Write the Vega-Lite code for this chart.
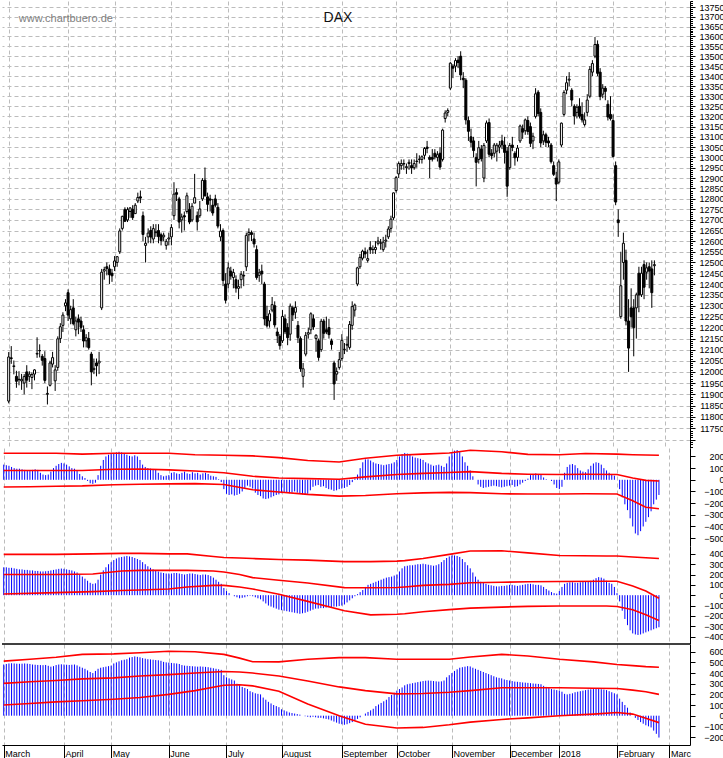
{
"$schema": "https://vega.github.io/schema/vega-lite/v6.json",
"padding": 0,
"background": "white",
"spacing": 0,
"bounds": "flush",
"config": {
  "view": {"stroke": null},
  "font": "Liberation Sans",
  "axis": {"labelFont": "Liberation Sans", "labelFontSize": 9, "labelColor": "#000", "domainColor": "#000", "tickColor": "#000", "gridColor": "#bcbcbc", "gridDash": [4, 3], "gridWidth": 1, "labelOverlap": false, "labelBound": false}
},
"datasets": {
"d": [
{"i":0,"o":11870,"h":12089,"l":11860,"c":12067,"a":130,"b":270,"p":480},
{"i":1,"o":12063,"h":12116,"l":12036,"c":12060,"a":125,"b":270,"p":485},
{"i":2,"o":12024,"h":12051,"l":11989,"c":12027,"a":120,"b":265,"p":490},
{"i":3,"o":11980,"h":12005,"l":11929,"c":11958,"a":110,"b":265,"p":492},
{"i":4,"o":11965,"h":12003,"l":11940,"c":11967,"a":100,"b":260,"p":490},
{"i":5,"o":11960,"h":11991,"l":11920,"c":11967,"a":95,"b":255,"p":488},
{"i":6,"o":11950,"h":11990,"l":11900,"c":11979,"a":95,"b":250,"p":487},
{"i":7,"o":12000,"h":12030,"l":11930,"c":11963,"a":90,"b":250,"p":488},
{"i":8,"o":11980,"h":12003,"l":11955,"c":11990,"a":85,"b":245,"p":490},
{"i":9,"o":11975,"h":11997,"l":11923,"c":11988,"a":80,"b":245,"p":488},
{"i":10,"o":11990,"h":12012,"l":11962,"c":12009,"a":80,"b":240,"p":485},
{"i":11,"o":12080,"h":12156,"l":12063,"c":12083,"a":85,"b":240,"p":480},
{"i":12,"o":12096,"h":12124,"l":12065,"c":12095,"a":90,"b":235,"p":478},
{"i":13,"o":12070,"h":12080,"l":12028,"c":12052,"a":85,"b":235,"p":476},
{"i":14,"o":12060,"h":12093,"l":11950,"c":11962,"a":60,"b":230,"p":475},
{"i":15,"o":11900,"h":11935,"l":11855,"c":11904,"a":45,"b":230,"p":474},
{"i":16,"o":11940,"h":12050,"l":11935,"c":12040,"a":40,"b":232,"p":476},
{"i":17,"o":12035,"h":12090,"l":12020,"c":12064,"a":45,"b":235,"p":468},
{"i":18,"o":11960,"h":12030,"l":11915,"c":12009,"a":70,"b":240,"p":460},
{"i":19,"o":12020,"h":12160,"l":12005,"c":12149,"a":100,"b":245,"p":465},
{"i":20,"o":12150,"h":12220,"l":12130,"c":12204,"a":120,"b":250,"p":475},
{"i":21,"o":12210,"h":12270,"l":12180,"c":12257,"a":135,"b":255,"p":480},
{"i":22,"o":12300,"h":12330,"l":12275,"c":12313,"a":145,"b":258,"p":482},
{"i":23,"o":12360,"h":12375,"l":12230,"c":12257,"a":140,"b":255,"p":480},
{"i":24,"o":12240,"h":12300,"l":12215,"c":12282,"a":130,"b":250,"p":478},
{"i":25,"o":12290,"h":12330,"l":12210,"c":12218,"a":115,"b":245,"p":476},
{"i":26,"o":12190,"h":12250,"l":12160,"c":12230,"a":100,"b":240,"p":478},
{"i":27,"o":12240,"h":12260,"l":12170,"c":12225,"a":95,"b":230,"p":480},
{"i":28,"o":12230,"h":12250,"l":12180,"c":12201,"a":80,"b":220,"p":472},
{"i":29,"o":12190,"h":12210,"l":12110,"c":12139,"a":50,"b":200,"p":460},
{"i":30,"o":12140,"h":12170,"l":12110,"c":12154,"a":30,"b":180,"p":450},
{"i":31,"o":12150,"h":12180,"l":12100,"c":12109,"a":15,"b":160,"p":440},
{"i":32,"o":12080,"h":12090,"l":11940,"c":12000,"a":-10,"b":140,"p":425},
{"i":33,"o":12010,"h":12060,"l":11990,"c":12016,"a":-30,"b":120,"p":410},
{"i":34,"o":12040,"h":12060,"l":11980,"c":12027,"a":-35,"b":110,"p":400},
{"i":35,"o":12040,"h":12090,"l":11990,"c":12048,"a":-25,"b":115,"p":420},
{"i":36,"o":12290,"h":12470,"l":12280,"c":12455,"a":40,"b":150,"p":440},
{"i":37,"o":12460,"h":12480,"l":12420,"c":12467,"a":120,"b":200,"p":450},
{"i":38,"o":12480,"h":12500,"l":12440,"c":12472,"a":170,"b":240,"p":455},
{"i":39,"o":12470,"h":12490,"l":12400,"c":12443,"a":200,"b":270,"p":460},
{"i":40,"o":12450,"h":12470,"l":12410,"c":12438,"a":215,"b":300,"p":465},
{"i":41,"o":12480,"h":12530,"l":12460,"c":12507,"a":225,"b":320,"p":470},
{"i":42,"o":12500,"h":12530,"l":12480,"c":12527,"a":230,"b":340,"p":490},
{"i":43,"o":12550,"h":12660,"l":12540,"c":12648,"a":235,"b":355,"p":500},
{"i":44,"o":12660,"h":12720,"l":12650,"c":12717,"a":240,"b":365,"p":510},
{"i":45,"o":12750,"h":12760,"l":12690,"c":12694,"a":235,"b":370,"p":520},
{"i":46,"o":12700,"h":12760,"l":12690,"c":12749,"a":230,"b":375,"p":525},
{"i":47,"o":12740,"h":12760,"l":12710,"c":12757,"a":215,"b":380,"p":530},
{"i":48,"o":12750,"h":12770,"l":12700,"c":12711,"a":205,"b":375,"p":545},
{"i":49,"o":12730,"h":12780,"l":12730,"c":12770,"a":200,"b":370,"p":550},
{"i":50,"o":12790,"h":12830,"l":12780,"c":12807,"a":210,"b":360,"p":556},
{"i":51,"o":12810,"h":12840,"l":12780,"c":12804,"a":200,"b":350,"p":552},
{"i":52,"o":12720,"h":12740,"l":12600,"c":12631,"a":170,"b":340,"p":548},
{"i":53,"o":12580,"h":12620,"l":12500,"c":12590,"a":130,"b":320,"p":540},
{"i":54,"o":12620,"h":12660,"l":12590,"c":12638,"a":110,"b":300,"p":535},
{"i":55,"o":12650,"h":12670,"l":12590,"c":12619,"a":100,"b":280,"p":530},
{"i":56,"o":12610,"h":12680,"l":12590,"c":12659,"a":95,"b":265,"p":528},
{"i":57,"o":12640,"h":12680,"l":12620,"c":12643,"a":90,"b":250,"p":525},
{"i":58,"o":12650,"h":12680,"l":12590,"c":12621,"a":85,"b":240,"p":522},
{"i":59,"o":12630,"h":12640,"l":12580,"c":12602,"a":60,"b":230,"p":520},
{"i":60,"o":12620,"h":12640,"l":12600,"c":12628,"a":40,"b":220,"p":515},
{"i":61,"o":12580,"h":12610,"l":12560,"c":12599,"a":30,"b":215,"p":505},
{"i":62,"o":12610,"h":12640,"l":12580,"c":12615,"a":35,"b":210,"p":500},
{"i":63,"o":12620,"h":12680,"l":12580,"c":12664,"a":40,"b":210,"p":498},
{"i":64,"o":12720,"h":12880,"l":12700,"c":12823,"a":60,"b":210,"p":495},
{"i":65,"o":12830,"h":12850,"l":12790,"c":12822,"a":65,"b":215,"p":492},
{"i":66,"o":12800,"h":12810,"l":12660,"c":12690,"a":55,"b":215,"p":490},
{"i":67,"o":12700,"h":12730,"l":12640,"c":12714,"a":50,"b":210,"p":485},
{"i":68,"o":12720,"h":12740,"l":12650,"c":12714,"a":60,"b":205,"p":475},
{"i":69,"o":12740,"h":12830,"l":12730,"c":12815,"a":70,"b":200,"p":470},
{"i":70,"o":12750,"h":12780,"l":12680,"c":12690,"a":55,"b":205,"p":468},
{"i":71,"o":12700,"h":12780,"l":12690,"c":12765,"a":50,"b":210,"p":466},
{"i":72,"o":12780,"h":12920,"l":12780,"c":12806,"a":65,"b":210,"p":464},
{"i":73,"o":12720,"h":12740,"l":12650,"c":12691,"a":55,"b":205,"p":462},
{"i":74,"o":12720,"h":12790,"l":12710,"c":12752,"a":60,"b":200,"p":460},
{"i":75,"o":12800,"h":12900,"l":12790,"c":12889,"a":45,"b":195,"p":462},
{"i":76,"o":12890,"h":12951,"l":12870,"c":12814,"a":55,"b":200,"p":460},
{"i":77,"o":12810,"h":12830,"l":12740,"c":12774,"a":60,"b":200,"p":458},
{"i":78,"o":12800,"h":12820,"l":12740,"c":12794,"a":50,"b":195,"p":455},
{"i":79,"o":12770,"h":12800,"l":12720,"c":12733,"a":35,"b":185,"p":450},
{"i":80,"o":12800,"h":12820,"l":12760,"c":12770,"a":30,"b":170,"p":445},
{"i":81,"o":12760,"h":12780,"l":12660,"c":12671,"a":25,"b":150,"p":440},
{"i":82,"o":12620,"h":12680,"l":12600,"c":12647,"a":5,"b":130,"p":435},
{"i":83,"o":12650,"h":12660,"l":12390,"c":12416,"a":-20,"b":110,"p":430},
{"i":84,"o":12400,"h":12450,"l":12310,"c":12325,"a":-80,"b":70,"p":380},
{"i":85,"o":12400,"h":12500,"l":12380,"c":12475,"a":-120,"b":40,"p":360},
{"i":86,"o":12460,"h":12480,"l":12420,"c":12437,"a":-130,"b":20,"p":350},
{"i":87,"o":12430,"h":12470,"l":12380,"c":12453,"a":-125,"b":0,"p":340},
{"i":88,"o":12420,"h":12440,"l":12360,"c":12381,"a":-135,"b":-10,"p":330},
{"i":89,"o":12380,"h":12420,"l":12330,"c":12388,"a":-130,"b":-20,"p":300},
{"i":90,"o":12420,"h":12460,"l":12380,"c":12445,"a":-120,"b":-30,"p":290},
{"i":91,"o":12440,"h":12460,"l":12390,"c":12437,"a":-100,"b":-25,"p":270},
{"i":92,"o":12480,"h":12640,"l":12460,"c":12627,"a":-70,"b":-20,"p":260},
{"i":93,"o":12630,"h":12660,"l":12600,"c":12641,"a":-50,"b":-10,"p":250},
{"i":94,"o":12640,"h":12650,"l":12600,"c":12631,"a":-60,"b":-5,"p":230},
{"i":95,"o":12610,"h":12640,"l":12570,"c":12587,"a":-75,"b":-10,"p":220},
{"i":96,"o":12560,"h":12580,"l":12420,"c":12430,"a":-110,"b":-20,"p":210},
{"i":97,"o":12440,"h":12470,"l":12410,"c":12452,"a":-130,"b":-30,"p":205},
{"i":98,"o":12460,"h":12490,"l":12400,"c":12447,"a":-140,"b":-40,"p":200},
{"i":99,"o":12400,"h":12410,"l":12210,"c":12240,"a":-160,"b":-60,"p":170},
{"i":100,"o":12250,"h":12300,"l":12200,"c":12208,"a":-165,"b":-80,"p":150},
{"i":101,"o":12230,"h":12280,"l":12200,"c":12263,"a":-160,"b":-100,"p":130},
{"i":102,"o":12280,"h":12340,"l":12270,"c":12305,"a":-150,"b":-110,"p":115},
{"i":103,"o":12300,"h":12320,"l":12200,"c":12212,"a":-140,"b":-120,"p":100},
{"i":104,"o":12180,"h":12200,"l":12130,"c":12163,"a":-130,"b":-130,"p":90},
{"i":105,"o":12160,"h":12170,"l":12100,"c":12118,"a":-125,"b":-140,"p":80},
{"i":106,"o":12140,"h":12280,"l":12130,"c":12251,"a":-115,"b":-145,"p":60},
{"i":107,"o":12240,"h":12260,"l":12170,"c":12181,"a":-110,"b":-150,"p":50},
{"i":108,"o":12200,"h":12220,"l":12120,"c":12154,"a":-105,"b":-155,"p":40},
{"i":109,"o":12170,"h":12310,"l":12140,"c":12298,"a":-115,"b":-160,"p":30},
{"i":110,"o":12290,"h":12300,"l":12230,"c":12258,"a":-110,"b":-165,"p":25},
{"i":111,"o":12270,"h":12320,"l":12240,"c":12292,"a":-100,"b":-170,"p":20},
{"i":112,"o":12210,"h":12230,"l":12130,"c":12154,"a":-110,"b":-175,"p":15},
{"i":113,"o":12150,"h":12160,"l":12000,"c":12014,"a":-120,"b":-180,"p":10},
{"i":114,"o":11980,"h":12040,"l":11930,"c":12014,"a":-125,"b":-175,"p":0},
{"i":115,"o":12080,"h":12180,"l":12070,"c":12165,"a":-130,"b":-170,"p":-5},
{"i":116,"o":12170,"h":12200,"l":12150,"c":12177,"a":-120,"b":-160,"p":-10},
{"i":117,"o":12190,"h":12270,"l":12170,"c":12263,"a":-90,"b":-150,"p":-15},
{"i":118,"o":12240,"h":12260,"l":12190,"c":12203,"a":-60,"b":-140,"p":-10},
{"i":119,"o":12150,"h":12170,"l":12090,"c":12165,"a":-50,"b":-130,"p":-15},
{"i":120,"o":12140,"h":12150,"l":12050,"c":12065,"a":-45,"b":-130,"p":-20},
{"i":121,"o":12100,"h":12240,"l":12090,"c":12229,"a":-60,"b":-125,"p":-20},
{"i":122,"o":12230,"h":12240,"l":12150,"c":12174,"a":-55,"b":-125,"p":-25},
{"i":123,"o":12190,"h":12250,"l":12170,"c":12180,"a":-70,"b":-120,"p":-30},
{"i":124,"o":12200,"h":12240,"l":12150,"c":12168,"a":-80,"b":-115,"p":-35},
{"i":125,"o":12140,"h":12150,"l":12100,"c":12123,"a":-85,"b":-115,"p":-45},
{"i":126,"o":12040,"h":12050,"l":11875,"c":11946,"a":-95,"b":-110,"p":-55},
{"i":127,"o":11990,"h":12020,"l":11960,"c":12002,"a":-90,"b":-110,"p":-65},
{"i":128,"o":12020,"h":12090,"l":12010,"c":12055,"a":-80,"b":-105,"p":-75},
{"i":129,"o":12060,"h":12170,"l":12050,"c":12142,"a":-75,"b":-100,"p":-80},
{"i":130,"o":12100,"h":12130,"l":12080,"c":12102,"a":-70,"b":-90,"p":-85},
{"i":131,"o":12120,"h":12160,"l":12090,"c":12124,"a":-60,"b":-70,"p":-80},
{"i":132,"o":12110,"h":12230,"l":12100,"c":12214,"a":-45,"b":-50,"p":-70},
{"i":133,"o":12210,"h":12320,"l":12190,"c":12296,"a":-20,"b":-30,"p":-60},
{"i":134,"o":12280,"h":12310,"l":12250,"c":12303,"a":10,"b":-10,"p":-45},
{"i":135,"o":12400,"h":12480,"l":12390,"c":12475,"a":45,"b":10,"p":-30},
{"i":136,"o":12480,"h":12540,"l":12470,"c":12524,"a":100,"b":30,"p":-15},
{"i":137,"o":12520,"h":12560,"l":12510,"c":12553,"a":150,"b":50,"p":0},
{"i":138,"o":12550,"h":12570,"l":12520,"c":12540,"a":175,"b":80,"p":20},
{"i":139,"o":12510,"h":12560,"l":12500,"c":12518,"a":175,"b":100,"p":35},
{"i":140,"o":12570,"h":12600,"l":12540,"c":12559,"a":165,"b":110,"p":50},
{"i":141,"o":12560,"h":12580,"l":12540,"c":12561,"a":150,"b":120,"p":65},
{"i":142,"o":12560,"h":12600,"l":12540,"c":12570,"a":140,"b":130,"p":90},
{"i":143,"o":12590,"h":12620,"l":12580,"c":12600,"a":135,"b":140,"p":105},
{"i":144,"o":12590,"h":12610,"l":12560,"c":12592,"a":130,"b":150,"p":120},
{"i":145,"o":12560,"h":12620,"l":12550,"c":12595,"a":125,"b":160,"p":135},
{"i":146,"o":12600,"h":12630,"l":12570,"c":12605,"a":130,"b":170,"p":150},
{"i":147,"o":12620,"h":12670,"l":12610,"c":12657,"a":135,"b":175,"p":175},
{"i":148,"o":12660,"h":12720,"l":12640,"c":12704,"a":140,"b":180,"p":195},
{"i":149,"o":12710,"h":12830,"l":12700,"c":12829,"a":150,"b":190,"p":215},
{"i":150,"o":12840,"h":12910,"l":12830,"c":12902,"a":170,"b":200,"p":235},
{"i":151,"o":12920,"h":12980,"l":12900,"c":12970,"a":200,"b":230,"p":250},
{"i":152,"o":12960,"h":12990,"l":12940,"c":12970,"a":220,"b":260,"p":265},
{"i":153,"o":12970,"h":12990,"l":12940,"c":12968,"a":230,"b":280,"p":285},
{"i":154,"o":12950,"h":12970,"l":12920,"c":12955,"a":225,"b":285,"p":295},
{"i":155,"o":12970,"h":12990,"l":12940,"c":12976,"a":215,"b":290,"p":300},
{"i":156,"o":12960,"h":12990,"l":12920,"c":12949,"a":200,"b":290,"p":305},
{"i":157,"o":12950,"h":12990,"l":12940,"c":12970,"a":190,"b":295,"p":310},
{"i":158,"o":12980,"h":13020,"l":12950,"c":12982,"a":185,"b":300,"p":315},
{"i":159,"o":12990,"h":13010,"l":12970,"c":12991,"a":180,"b":300,"p":320},
{"i":160,"o":12990,"h":13010,"l":12970,"c":13003,"a":170,"b":305,"p":325},
{"i":161,"o":13010,"h":13050,"l":12990,"c":13043,"a":150,"b":300,"p":328},
{"i":162,"o":13050,"h":13080,"l":13020,"c":13043,"a":140,"b":295,"p":330},
{"i":163,"o":13000,"h":13010,"l":12900,"c":12990,"a":130,"b":290,"p":328},
{"i":164,"o":13000,"h":13040,"l":12980,"c":12991,"a":120,"b":285,"p":325},
{"i":165,"o":13020,"h":13040,"l":12990,"c":13003,"a":125,"b":290,"p":322},
{"i":166,"o":13000,"h":13030,"l":12980,"c":13013,"a":130,"b":300,"p":320},
{"i":167,"o":13020,"h":13050,"l":12940,"c":12953,"a":120,"b":320,"p":322},
{"i":168,"o":12990,"h":13140,"l":12980,"c":13133,"a":110,"b":340,"p":330},
{"i":169,"o":13190,"h":13230,"l":13170,"c":13217,"a":140,"b":360,"p":360},
{"i":170,"o":13220,"h":13240,"l":13200,"c":13229,"a":200,"b":375,"p":380},
{"i":171,"o":13340,"h":13470,"l":13330,"c":13465,"a":230,"b":385,"p":400},
{"i":172,"o":13450,"h":13460,"l":13390,"c":13440,"a":250,"b":385,"p":420},
{"i":173,"o":13450,"h":13490,"l":13420,"c":13478,"a":255,"b":380,"p":435},
{"i":174,"o":13480,"h":13500,"l":13440,"c":13468,"a":245,"b":370,"p":450},
{"i":175,"o":13500,"h":13525,"l":13380,"c":13406,"a":200,"b":350,"p":455},
{"i":176,"o":13390,"h":13420,"l":13340,"c":13382,"a":150,"b":320,"p":460},
{"i":177,"o":13380,"h":13390,"l":13160,"c":13183,"a":120,"b":290,"p":465},
{"i":178,"o":13180,"h":13200,"l":13080,"c":13127,"a":80,"b":260,"p":462},
{"i":179,"o":13100,"h":13140,"l":13050,"c":13074,"a":30,"b":220,"p":450},
{"i":180,"o":13080,"h":13100,"l":13000,"c":13033,"a":0,"b":180,"p":440},
{"i":181,"o":13000,"h":13020,"l":12860,"c":12976,"a":-40,"b":150,"p":430},
{"i":182,"o":12990,"h":13080,"l":12970,"c":13047,"a":-60,"b":130,"p":420},
{"i":183,"o":13040,"h":13060,"l":12980,"c":12994,"a":-70,"b":120,"p":410},
{"i":184,"o":12900,"h":13070,"l":12880,"c":13058,"a":-65,"b":110,"p":400},
{"i":185,"o":13080,"h":13180,"l":13070,"c":13168,"a":-60,"b":100,"p":390},
{"i":186,"o":13170,"h":13190,"l":13000,"c":13015,"a":-55,"b":95,"p":380},
{"i":187,"o":13020,"h":13040,"l":12990,"c":13008,"a":-50,"b":90,"p":370},
{"i":188,"o":13020,"h":13070,"l":13000,"c":13060,"a":-55,"b":85,"p":360},
{"i":189,"o":13030,"h":13070,"l":12980,"c":13059,"a":-60,"b":85,"p":355},
{"i":190,"o":13050,"h":13080,"l":13020,"c":13060,"a":-65,"b":90,"p":350},
{"i":191,"o":13080,"h":13110,"l":13040,"c":13061,"a":-60,"b":90,"p":340},
{"i":192,"o":13060,"h":13100,"l":12970,"c":13024,"a":-55,"b":95,"p":335},
{"i":193,"o":13030,"h":13050,"l":12810,"c":12861,"a":-50,"b":100,"p":330},
{"i":194,"o":12950,"h":13070,"l":12940,"c":13058,"a":-45,"b":100,"p":325},
{"i":195,"o":13060,"h":13100,"l":13030,"c":13048,"a":-60,"b":95,"p":320},
{"i":196,"o":13020,"h":13030,"l":12960,"c":12998,"a":-55,"b":90,"p":318},
{"i":197,"o":13000,"h":13060,"l":12980,"c":13045,"a":-40,"b":95,"p":315},
{"i":198,"o":13080,"h":13160,"l":13070,"c":13153,"a":-25,"b":100,"p":312},
{"i":199,"o":13140,"h":13160,"l":13090,"c":13123,"a":-10,"b":105,"p":310},
{"i":200,"o":13130,"h":13190,"l":13110,"c":13183,"a":10,"b":110,"p":308},
{"i":201,"o":13180,"h":13200,"l":13110,"c":13126,"a":40,"b":110,"p":305},
{"i":202,"o":13150,"h":13170,"l":13050,"c":13068,"a":50,"b":105,"p":302},
{"i":203,"o":13080,"h":13120,"l":13040,"c":13103,"a":55,"b":100,"p":300},
{"i":204,"o":13200,"h":13340,"l":13190,"c":13312,"a":50,"b":100,"p":298},
{"i":205,"o":13320,"h":13330,"l":13200,"c":13215,"a":45,"b":95,"p":295},
{"i":206,"o":13220,"h":13240,"l":13050,"c":13070,"a":20,"b":80,"p":280},
{"i":207,"o":13080,"h":13130,"l":13060,"c":13110,"a":5,"b":60,"p":270},
{"i":208,"o":13110,"h":13120,"l":13050,"c":13073,"a":0,"b":45,"p":260},
{"i":209,"o":13080,"h":13100,"l":13050,"c":13070,"a":-10,"b":30,"p":250},
{"i":210,"o":13060,"h":13070,"l":12970,"c":12979,"a":-40,"b":20,"p":245},
{"i":211,"o":12960,"h":12980,"l":12910,"c":12918,"a":-70,"b":15,"p":240},
{"i":212,"o":12900,"h":12930,"l":12790,"c":12871,"a":-80,"b":40,"p":235},
{"i":213,"o":12880,"h":12990,"l":12870,"c":12978,"a":-60,"b":80,"p":225},
{"i":214,"o":13060,"h":13170,"l":13050,"c":13167,"a":60,"b":110,"p":205},
{"i":215,"o":13210,"h":13330,"l":13200,"c":13319,"a":110,"b":120,"p":200},
{"i":216,"o":13330,"h":13400,"l":13310,"c":13367,"a":130,"b":125,"p":205},
{"i":217,"o":13380,"h":13420,"l":13350,"c":13385,"a":135,"b":125,"p":210},
{"i":218,"o":13330,"h":13340,"l":13250,"c":13281,"a":125,"b":120,"p":220},
{"i":219,"o":13250,"h":13260,"l":13160,"c":13202,"a":100,"b":120,"p":225},
{"i":220,"o":13220,"h":13260,"l":13190,"c":13245,"a":80,"b":125,"p":230},
{"i":221,"o":13250,"h":13290,"l":13190,"c":13201,"a":70,"b":130,"p":235},
{"i":222,"o":13210,"h":13270,"l":13170,"c":13183,"a":65,"b":130,"p":240},
{"i":223,"o":13160,"h":13220,"l":13150,"c":13183,"a":90,"b":135,"p":245},
{"i":224,"o":13220,"h":13310,"l":13200,"c":13281,"a":120,"b":140,"p":248},
{"i":225,"o":13300,"h":13450,"l":13290,"c":13434,"a":140,"b":150,"p":250},
{"i":226,"o":13420,"h":13480,"l":13400,"c":13463,"a":150,"b":165,"p":252},
{"i":227,"o":13500,"h":13597,"l":13490,"c":13559,"a":145,"b":175,"p":250},
{"i":228,"o":13560,"h":13580,"l":13400,"c":13414,"a":130,"b":170,"p":248},
{"i":229,"o":13420,"h":13440,"l":13280,"c":13298,"a":100,"b":160,"p":245},
{"i":230,"o":13310,"h":13360,"l":13290,"c":13340,"a":80,"b":140,"p":240},
{"i":231,"o":13340,"h":13350,"l":13280,"c":13324,"a":60,"b":120,"p":230},
{"i":232,"o":13260,"h":13280,"l":13180,"c":13197,"a":50,"b":110,"p":220},
{"i":233,"o":13210,"h":13300,"l":13180,"c":13189,"a":35,"b":80,"p":210},
{"i":234,"o":13180,"h":13210,"l":13000,"c":13004,"a":0,"b":20,"p":200},
{"i":235,"o":12960,"h":12980,"l":12770,"c":12785,"a":-80,"b":-60,"p":160},
{"i":236,"o":12700,"h":12750,"l":12620,"c":12687,"a":-150,"b":-150,"p":130},
{"i":237,"o":12250,"h":12550,"l":12240,"c":12392,"a":-210,"b":-230,"p":100},
{"i":238,"o":12500,"h":12640,"l":12420,"c":12590,"a":-260,"b":-290,"p":75},
{"i":239,"o":12510,"h":12560,"l":12210,"c":12230,"a":-330,"b":-340,"p":30},
{"i":240,"o":12230,"h":12330,"l":12000,"c":12107,"a":-400,"b":-370,"p":0},
{"i":241,"o":12290,"h":12380,"l":12200,"c":12250,"a":-460,"b":-380,"p":-20},
{"i":242,"o":12290,"h":12330,"l":12070,"c":12200,"a":-475,"b":-385,"p":-40},
{"i":243,"o":12290,"h":12360,"l":12150,"c":12350,"a":-440,"b":-380,"p":-60},
{"i":244,"o":12450,"h":12480,"l":12270,"c":12350,"a":-400,"b":-370,"p":-75},
{"i":245,"o":12350,"h":12480,"l":12340,"c":12450,"a":-360,"b":-360,"p":-90},
{"i":246,"o":12490,"h":12510,"l":12330,"c":12385,"a":-320,"b":-350,"p":-100},
{"i":247,"o":12455,"h":12500,"l":12420,"c":12475,"a":-270,"b":-340,"p":-110},
{"i":248,"o":12480,"h":12500,"l":12380,"c":12460,"a":-210,"b":-330,"p":-140},
{"i":249,"o":12470,"h":12510,"l":12290,"c":12360,"a":-170,"b":-320,"p":-170},
{"i":250,"o":12485,"h":12510,"l":12440,"c":12490,"a":-130,"b":-310,"p":-205}
],
"b1": [
{"i":0,"u":227,"m":80,"lo":-62},{"i":10,"u":227,"m":80,"lo":-60},{"i":20,"u":227,"m":80,"lo":-55},{"i":30,"u":220,"m":80,"lo":-52},{"i":42,"u":227,"m":90,"lo":-42},{"i":52,"u":227,"m":92,"lo":-38},{"i":63,"u":227,"m":85,"lo":-35},{"i":73,"u":215,"m":75,"lo":-33},{"i":84,"u":210,"m":60,"lo":-40},{"i":95,"u":205,"m":30,"lo":-85},{"i":105,"u":190,"m":15,"lo":-105},{"i":116,"u":165,"m":10,"lo":-125},{"i":128,"u":152,"m":5,"lo":-140},{"i":138,"u":185,"m":25,"lo":-135},{"i":150,"u":210,"m":45,"lo":-120},{"i":160,"u":220,"m":55,"lo":-112},{"i":170,"u":230,"m":62,"lo":-108},{"i":178,"u":253,"m":70,"lo":-110},{"i":190,"u":240,"m":55,"lo":-120},{"i":200,"u":218,"m":48,"lo":-122},{"i":212,"u":215,"m":45,"lo":-122},{"i":222,"u":225,"m":47,"lo":-120},{"i":234,"u":220,"m":45,"lo":-122},{"i":240,"u":215,"m":15,"lo":-180},{"i":245,"u":212,"m":-5,"lo":-235},{"i":250,"u":210,"m":-10,"lo":-248}
],
"b2": [
{"i":0,"u":395,"m":200,"lo":12},{"i":20,"u":395,"m":200,"lo":25},{"i":34,"u":400,"m":205,"lo":35},{"i":45,"u":405,"m":235,"lo":45},{"i":52,"u":405,"m":240,"lo":50},{"i":63,"u":400,"m":240,"lo":60},{"i":70,"u":400,"m":240,"lo":80},{"i":80,"u":375,"m":235,"lo":95},{"i":84,"u":365,"m":225,"lo":95},{"i":90,"u":360,"m":200,"lo":80},{"i":95,"u":355,"m":170,"lo":60},{"i":105,"u":345,"m":145,"lo":10},{"i":116,"u":340,"m":118,"lo":-60},{"i":130,"u":325,"m":73,"lo":-150},{"i":140,"u":325,"m":72,"lo":-190},{"i":150,"u":330,"m":75,"lo":-185},{"i":153,"u":335,"m":80,"lo":-180},{"i":160,"u":355,"m":95,"lo":-160},{"i":170,"u":395,"m":105,"lo":-140},{"i":178,"u":428,"m":120,"lo":-125},{"i":190,"u":430,"m":125,"lo":-115},{"i":200,"u":410,"m":130,"lo":-108},{"i":212,"u":385,"m":133,"lo":-105},{"i":230,"u":380,"m":135,"lo":-105},{"i":234,"u":380,"m":135,"lo":-110},{"i":240,"u":370,"m":90,"lo":-140},{"i":245,"u":362,"m":40,"lo":-190},{"i":250,"u":355,"m":-30,"lo":-245}
],
"b3": [
{"i":0,"u":512,"m":303,"lo":100},{"i":10,"u":530,"m":318,"lo":115},{"i":20,"u":548,"m":330,"lo":130},{"i":30,"u":575,"m":345,"lo":140},{"i":42,"u":580,"m":355,"lo":155},{"i":52,"u":590,"m":372,"lo":170},{"i":63,"u":605,"m":385,"lo":200},{"i":73,"u":600,"m":400,"lo":235},{"i":84,"u":575,"m":415,"lo":285},{"i":90,"u":540,"m":410,"lo":290},{"i":95,"u":506,"m":400,"lo":280},{"i":105,"u":505,"m":372,"lo":230},{"i":116,"u":530,"m":325,"lo":110},{"i":128,"u":545,"m":270,"lo":0},{"i":138,"u":545,"m":235,"lo":-80},{"i":150,"u":530,"m":205,"lo":-115},{"i":160,"u":530,"m":208,"lo":-110},{"i":170,"u":530,"m":220,"lo":-85},{"i":178,"u":550,"m":235,"lo":-60},{"i":190,"u":575,"m":262,"lo":-35},{"i":200,"u":560,"m":262,"lo":-20},{"i":212,"u":530,"m":262,"lo":0},{"i":225,"u":505,"m":258,"lo":15},{"i":234,"u":480,"m":255,"lo":30},{"i":240,"u":470,"m":240,"lo":15},{"i":245,"u":460,"m":225,"lo":-25},{"i":250,"u":455,"m":200,"lo":-65}
]
},
"vconcat": [
{
  "width": 688, "height": 447,
  "resolve": {"axis": {"y": "independent"}},
  "layer": [
    {"data": {"name": "d"},
     "mark": {"type": "rule", "color": "#000", "strokeWidth": 1},
     "encoding": {
       "x": {"field": "i", "type": "quantitative", "title": null, "scale": {"domain": [-0.65, 261.85], "nice": false, "zero": false},
             "axis": {"values": [0,23,41,63,85,106,129,150,171,193,212,234,254], "grid": true, "labels": false, "ticks": false, "domain": false, "title": null}},
       "y": {"field": "l", "type": "quantitative", "title": null, "scale": {"type": "log", "domain": [11664, 13781], "nice": false, "zero": false},
             "axis": {"orient": "right", "title": null, "values": [11700,11750,11800,11850,11900,11950,12000,12050,12100,12150,12200,12250,12300,12350,12400,12450,12500,12550,12600,12650,12700,12750,12800,12850,12900,12950,13000,13050,13100,13150,13200,13250,13300,13350,13400,13450,13500,13550,13600,13650,13700,13750],
                      "grid": true, "format": "d", "tickSize": 5, "labelPadding": 29, "labelAlign": "right", "labelBaseline": "middle", "labelOverlap": false, "labelExpr": "datum.value < 11740 ? '' : datum.label"}},
       "y2": {"field": "h"}
     }},
    {"data": {"name": "d"},
     "mark": {"type": "rule", "opacity": 0},
     "encoding": {
       "y": {"field": "c", "type": "quantitative", "title": null,
             "axis": {"orient": "right", "title": null, "grid": false, "labels": false, "domain": false, "tickSize": 2.5,
                      "values": [11670,11680,11690,11700,11710,11720,11730,11740,11750,11760,11770,11780,11790,11800,11810,11820,11830,11840,11850,11860,11870,11880,11890,11900,11910,11920,11930,11940,11950,11960,11970,11980,11990,12000,12010,12020,12030,12040,12050,12060,12070,12080,12090,12100,12110,12120,12130,12140,12150,12160,12170,12180,12190,12200,12210,12220,12230,12240,12250,12260,12270,12280,12290,12300,12310,12320,12330,12340,12350,12360,12370,12380,12390,12400,12410,12420,12430,12440,12450,12460,12470,12480,12490,12500,12510,12520,12530,12540,12550,12560,12570,12580,12590,12600,12610,12620,12630,12640,12650,12660,12670,12680,12690,12700,12710,12720,12730,12740,12750,12760,12770,12780,12790,12800,12810,12820,12830,12840,12850,12860,12870,12880,12890,12900,12910,12920,12930,12940,12950,12960,12970,12980,12990,13000,13010,13020,13030,13040,13050,13060,13070,13080,13090,13100,13110,13120,13130,13140,13150,13160,13170,13180,13190,13200,13210,13220,13230,13240,13250,13260,13270,13280,13290,13300,13310,13320,13330,13340,13350,13360,13370,13380,13390,13400,13410,13420,13430,13440,13450,13460,13470,13480,13490,13500,13510,13520,13530,13540,13550,13560,13570,13580,13590,13600,13610,13620,13630,13640,13650,13660,13670,13680,13690,13700,13710,13720,13730,13740,13750,13760,13770,13780]}}
     }},
    {"data": {"name": "d"},
     "mark": {"type": "bar", "size": 2, "stroke": "#000", "strokeWidth": 1},
     "encoding": {
       "x": {"field": "i", "type": "quantitative", "title": null},
       "y": {"field": "o", "type": "quantitative", "title": null, "axis": null},
       "y2": {"field": "c"},
       "fill": {"condition": {"test": "datum.c >= datum.o", "value": "#ffffff"}, "value": "#000000"}
     }},
    {"data": {"values": [{"t": "DAX"}]},
     "mark": {"type": "text", "fontSize": 14, "font": "Liberation Sans", "color": "#111", "align": "center", "baseline": "middle"},
     "encoding": {"x": {"datum": 127.5, "type": "quantitative"}, "y": {"datum": 13694, "type": "quantitative", "axis": null}, "text": {"field": "t"}}},
    {"data": {"values": [{"t": "www.chartbuero.de"}]},
     "mark": {"type": "text", "fontSize": 11, "font": "Liberation Sans", "color": "#808080", "align": "left", "baseline": "middle"},
     "encoding": {"x": {"datum": 3.9, "type": "quantitative"}, "y": {"datum": 13688, "type": "quantitative", "axis": null}, "text": {"field": "t"}}}
  ]
},
{
  "width": 688, "height": 98,
  "layer": [
    {"data": {"name": "d"},
     "mark": {"type": "rule", "color": "#0000ff", "strokeWidth": 1},
     "encoding": {
       "x": {"field": "i", "type": "quantitative", "title": null, "scale": {"domain": [-0.65, 261.85], "nice": false, "zero": false},
             "axis": {"values": [0,23,41,63,85,106,129,150,171,193,212,234,254], "grid": true, "labels": false, "ticks": false, "domain": false, "title": null}},
       "y": {"field": "a", "type": "quantitative", "title": null, "scale": {"domain": [-567.3, 272.5], "nice": false, "zero": false},
             "axis": {"orient": "right", "title": null, "values": [-500,-400,-300,-200,-100,0,100,200], "grid": false, "format": "d", "tickSize": 5, "labelPadding": 29, "labelAlign": "right", "labelBaseline": "middle", "labelOverlap": false}},
       "y2": {"datum": 0}
     }},
    {"data": {"name": "b1"},
     "transform": [{"fold": ["u", "m", "lo"], "as": ["k", "v"]}],
     "mark": {"type": "line", "color": "#ff0000", "strokeWidth": 1.6},
     "encoding": {"x": {"field": "i", "type": "quantitative", "title": null}, "y": {"field": "v", "type": "quantitative", "title": null,
       "axis": {"orient": "right", "title": null, "values": [-500,-400,-300,-200,-100,0,100,200], "grid": false, "format": "d", "tickSize": 5, "labelPadding": 29, "labelAlign": "right", "labelBaseline": "middle", "labelOverlap": false}}, "detail": {"field": "k"}}}
  ]
},
{
  "width": 688, "height": 98,
  "layer": [
    {"data": {"name": "d"},
     "mark": {"type": "rule", "color": "#0000ff", "strokeWidth": 1},
     "encoding": {
       "x": {"field": "i", "type": "quantitative", "title": null, "scale": {"domain": [-0.65, 261.85], "nice": false, "zero": false},
             "axis": {"values": [0,23,41,63,85,106,129,150,171,193,212,234,254], "grid": true, "labels": false, "ticks": false, "domain": false, "title": null}},
       "y": {"field": "b", "type": "quantitative", "title": null, "scale": {"domain": [-472.4, 476.3], "nice": false, "zero": false},
             "axis": {"orient": "right", "title": null, "values": [-400,-300,-200,-100,0,100,200,300,400], "grid": false, "format": "d", "tickSize": 5, "labelPadding": 29, "labelAlign": "right", "labelBaseline": "middle", "labelOverlap": false}},
       "y2": {"datum": 0}
     }},
    {"data": {"name": "b2"},
     "transform": [{"fold": ["u", "m", "lo"], "as": ["k", "v"]}],
     "mark": {"type": "line", "color": "#ff0000", "strokeWidth": 1.6},
     "encoding": {"x": {"field": "i", "type": "quantitative", "title": null}, "y": {"field": "v", "type": "quantitative", "title": null,
       "axis": {"orient": "right", "title": null, "values": [-400,-300,-200,-100,0,100,200,300,400], "grid": false, "format": "d", "tickSize": 5, "labelPadding": 29, "labelAlign": "right", "labelBaseline": "middle", "labelOverlap": false}}, "detail": {"field": "k"}}}
  ]
},
{
  "width": 688, "height": 101,
  "layer": [
    {"data": {"name": "d"},
     "mark": {"type": "rule", "color": "#0000ff", "strokeWidth": 1},
     "encoding": {
       "x": {"field": "i", "type": "quantitative", "title": null, "scale": {"domain": [-0.65, 261.85], "nice": false, "zero": false},
             "axis": {"values": [0,23,41,63,85,106,129,150,171,193,212,234,254], "grid": true, "labels": true, "ticks": true, "tickSize": 13, "domain": true, "title": null,
                      "labelAlign": "left", "labelBaseline": "top", "labelPadding": -9, "labelOffset": 1, "labelFlush": false, "labelOverlap": false, "labelFontSize": 9,
                      "labelExpr": "datum.value == 0 ? 'March' : datum.value == 23 ? 'April' : datum.value == 41 ? 'May' : datum.value == 63 ? 'June' : datum.value == 85 ? 'July' : datum.value == 106 ? 'August' : datum.value == 129 ? 'September' : datum.value == 150 ? 'October' : datum.value == 171 ? 'November' : datum.value == 193 ? 'December' : datum.value == 212 ? '2018' : datum.value == 234 ? 'February' : 'Marc'"}},
       "y": {"field": "p", "type": "quantitative", "title": null, "scale": {"domain": [-274.9, 672.6], "nice": false, "zero": false},
             "axis": {"orient": "right", "title": null, "values": [-200,-100,0,100,200,300,400,500,600], "grid": false, "format": "d", "tickSize": 5, "labelPadding": 29, "labelAlign": "right", "labelBaseline": "middle", "labelOverlap": false}},
       "y2": {"datum": 0}
     }},
    {"data": {"name": "b3"},
     "transform": [{"fold": ["u", "m", "lo"], "as": ["k", "v"]}],
     "mark": {"type": "line", "color": "#ff0000", "strokeWidth": 1.6},
     "encoding": {"x": {"field": "i", "type": "quantitative", "title": null}, "y": {"field": "v", "type": "quantitative", "title": null,
       "axis": {"orient": "right", "title": null, "values": [-200,-100,0,100,200,300,400,500,600], "grid": false, "format": "d", "tickSize": 5, "labelPadding": 29, "labelAlign": "right", "labelBaseline": "middle", "labelOverlap": false}}, "detail": {"field": "k"}}},
    {"data": {"values": [{}]},
     "mark": {"type": "rule", "color": "#000", "strokeWidth": 1.5},
     "encoding": {"y": {"datum": 672, "type": "quantitative",
       "axis": {"orient": "right", "title": null, "values": [-200,-100,0,100,200,300,400,500,600], "grid": false, "format": "d", "tickSize": 5, "labelPadding": 29, "labelAlign": "right", "labelBaseline": "middle", "labelOverlap": false}}}}
  ]
}
]
}
